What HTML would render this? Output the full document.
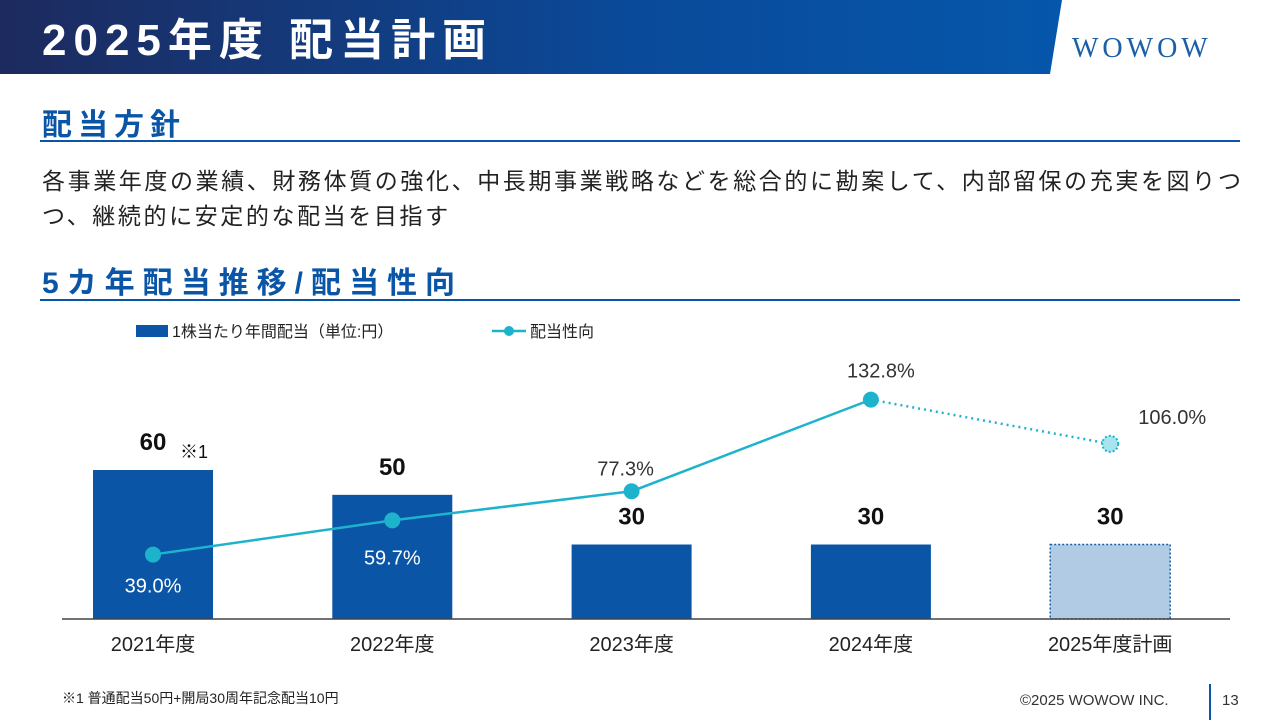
<!DOCTYPE html>
<html><head><meta charset="utf-8">
<style>
body{margin:0;width:1280px;height:720px;background:#fff;font-family:"Liberation Sans","Noto Sans CJK JP",sans-serif;overflow:hidden;position:relative}
.abs{position:absolute}
</style></head><body>
<svg class="abs" style="left:0;top:0" width="1280" height="80">
<defs><linearGradient id="hg" x1="0" x2="1"><stop offset="0" stop-color="#1d2a5e"/><stop offset="0.6" stop-color="#0a4a9a"/><stop offset="1" stop-color="#0557ab"/></linearGradient></defs>
<polygon points="0,0 1062,0 1050,74 0,74" fill="url(#hg)"/>
<text x="42" y="55" fill="#fff" font-size="44" font-weight="bold" letter-spacing="7" font-family="Liberation Sans,Noto Sans CJK JP,sans-serif">2025年度 配当計画</text>
<text x="1072" y="57" fill="#1a5fa8" font-size="28" letter-spacing="4" font-family="Liberation Serif,serif">WOWOW</text>
</svg>
<div class="abs" style="left:42px;top:100px;font-size:30px;font-weight:bold;color:#0a55a5;letter-spacing:6px">配当方針</div>
<div class="abs" style="left:40px;top:140px;width:1200px;height:2px;background:#0a55a5"></div>
<div class="abs" style="left:42px;top:164px;width:1225px;font-size:23px;line-height:35px;color:#222;letter-spacing:2.6px">各事業年度の業績、財務体質の強化、中長期事業戦略などを総合的に勘案して、内部留保の充実を図りつつ、継続的に安定的な配当を目指す</div>
<div class="abs" style="left:42px;top:258px;font-size:30px;font-weight:bold;color:#0a55a5;letter-spacing:8px">5カ年配当推移/配当性向</div>
<div class="abs" style="left:40px;top:299px;width:1200px;height:2px;background:#0a55a5"></div>
<svg id="chart" class="abs" style="left:0;top:310px" width="1280" height="350"></svg>
<div class="abs" style="left:62px;top:688px;font-size:14px;color:#222">※1 普通配当50円+開局30周年記念配当10円</div>
<div class="abs" style="left:1020px;top:692px;font-size:15px;color:#333">©2025 WOWOW INC.</div>
<div class="abs" style="left:1209px;top:684px;width:2px;height:36px;background:#0a55a5"></div>
<div class="abs" style="left:1222px;top:692px;font-size:15px;color:#333">13</div>
<script>
const categories=["2021年度","2022年度","2023年度","2024年度","2025年度計画"];
const dividends=[60,50,30,30,30];
const payout=[39.0,59.7,77.3,132.8,106.0];
const dividendLabels=["60","50","30","30","30"];
const payoutLabels=["39.0%","59.7%","77.3%","132.8%","106.0%"];
const svg=document.getElementById('chart');const NS='http://www.w3.org/2000/svg';
const OY=310,base=619-OY;
const xPos=i=>153+i*239.3;
const yBar=v=>base-v*2.483;
const yLine=v=>base-v*1.652;
function mk(t,a,p){const e=document.createElementNS(NS,t);for(const k in a)e.setAttribute(k,a[k]);(p||svg).appendChild(e);return e;}
let lg=mk('rect',{x:136,y:325-OY,width:32,height:12,fill:'#0a55a5'});

let lt=mk('text',{x:172,y:337-OY,'font-size':16,fill:'#222'});lt.textContent='1株当たり年間配当（単位:円）';

let ll=mk('line',{x1:492,y1:331-OY,x2:526,y2:331-OY,stroke:'#1eb3cc','stroke-width':2.5});

mk('circle',{cx:509,cy:331-OY,r:5,fill:'#1eb3cc'});
let lt2=mk('text',{x:530,y:337-OY,'font-size':16,fill:'#222'});lt2.textContent='配当性向';

dividends.forEach((v,i)=>{
 const last=i===dividends.length-1;
 const b=mk('rect',{x:xPos(i)-60,y:yBar(v),width:120,height:base-yBar(v),fill:last?'#b0cbe3':'#0a55a5',stroke:last?'#1a5fa8':'none','stroke-width':1.5,'stroke-dasharray':last?'2,2':''});
 
 const t=mk('text',{x:xPos(i),y:yBar(v)-20,'text-anchor':'middle','font-size':24,'font-weight':'bold',fill:'#111'});t.textContent=dividendLabels[i];
 
 const c=mk('text',{x:xPos(i),y:base+32,'text-anchor':'middle','font-size':20,fill:'#222'});c.textContent=categories[i];
 
});
let note=mk('text',{x:180,y:yBar(60)-12,'font-size':18,fill:'#111'});note.textContent='※1';

let ax=mk('line',{x1:62,y1:base,x2:1230,y2:base,stroke:'#444','stroke-width':1.5});

for(let i=0;i<payout.length-1;i++){
 const dotted=i===payout.length-2;
 const s=mk('line',{x1:xPos(i),y1:yLine(payout[i]),x2:xPos(i+1),y2:yLine(payout[i+1]),stroke:'#1eb3cc','stroke-width':2.5,'stroke-dasharray':dotted?'2,4':''});
 
}
const offs=[[0,38],[0,44],[-6,-16],[10,-22],[62,-20]];
payout.forEach((v,i)=>{
 const last=i===payout.length-1;
 const p=mk('circle',{cx:xPos(i),cy:yLine(v),r:8,fill:last?'#a8e4ee':'#1eb3cc',stroke:last?'#1eb3cc':'none','stroke-width':2,'stroke-dasharray':last?'2,2':''});
 
 const inBar=i<2;
 const t=mk('text',{x:xPos(i)+offs[i][0],y:yLine(v)+offs[i][1],'text-anchor':'middle','font-size':20,fill:inBar?'#fff':'#333'});t.textContent=payoutLabels[i];
 
});
</script>
</body></html>
